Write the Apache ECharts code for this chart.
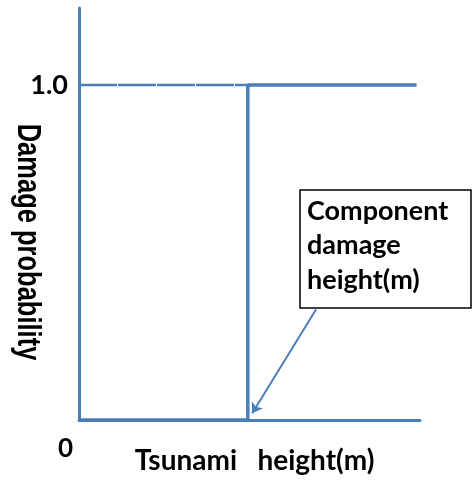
<!DOCTYPE html>
<html>
<head>
<meta charset="utf-8">
<script src="https://cdn.jsdelivr.net/npm/echarts@6/dist/echarts.min.js"></script>
<style>html,body{margin:0;padding:0;background:#fff}#c{width:473px;height:480px}</style>
</head>
<body>
<div id="c"></div>
<script>
// Step (fragility) curve: tsunami height vs damage probability
const tsunamiHeight = [0, 4.95, 4.95, 9.9];
const damageProb = [0, 0, 1, 1];
// 1.0 reference (dashed) level before the threshold
const refX = [0, 4.95];
const refY = [1, 1];
// annotation arrow (from box to threshold foot)
const arrowX = [6.95, 5.08];
const arrowY = [0.33, 0.02];
const yTickLabels = {0: '', 1: '1.0'};
const xTickLabels = {0: '0'};
const yAxisTitle = 'Damage probability';
const xAxisTitle = 'Tsunami   height(m)';
const boxLines = ['Component', 'damage', 'height(m)'];

const BLUE = '#4a7ebb';
const BOLD = 'Lato';

const chart = echarts.init(document.getElementById('c'), null, {renderer: 'canvas'});
chart.setOption({
  animation: false,
  backgroundColor: '#fff',
  grid: {left: 79, right: 53, top: 8, bottom: 60, containLabel: false, outerBoundsMode: 'none'},
  xAxis: {
    type: 'value', min: 0, max: 10, interval: 10,
    axisLine: {show: true, lineStyle: {color: BLUE, width: 3}},
    axisTick: {show: false}, splitLine: {show: false},
    axisLabel: {
      formatter: v => (xTickLabels[v] !== undefined ? xTickLabels[v] : ''),
      showMaxLabel: false,
      color: '#000', fontFamily: BOLD, fontWeight: 'bold', fontSize: 26,
      align: 'right', margin: 16, padding: [0, 6, 0, 0]
    },
    name: xAxisTitle, nameLocation: 'middle', nameGap: 27, nameMoveOverlap: false,
    nameTextStyle: {color: '#000', fontFamily: BOLD, fontWeight: 'bold', fontSize: 28,
                    padding: [0, 0, 0, 10]}
  },
  yAxis: {
    type: 'value', min: 0, max: 1.23, interval: 1,
    axisLine: {show: true, lineStyle: {color: BLUE, width: 3}},
    axisTick: {show: false}, splitLine: {show: false},
    axisLabel: {
      formatter: v => (yTickLabels[v] !== undefined ? yTickLabels[v] : ''),
      showMaxLabel: false,
      color: '#000', fontFamily: BOLD, fontWeight: 'bold', fontSize: 27, margin: 11
    }
  },
  series: [
    {
      type: 'line', symbol: 'none',
      data: tsunamiHeight.map((x, i) => [x, damageProb[i]]),
      lineStyle: {color: BLUE, width: 3.5}, z: 3
    },
    {
      type: 'line', symbol: 'none',
      data: refX.map((x, i) => [x, refY[i]]),
      lineStyle: {color: BLUE, width: 2.5, type: [38, 1]}, z: 2
    },
    {
      type: 'lines', coordinateSystem: 'cartesian2d',
      data: [{coords: arrowX.map((x, i) => [x, arrowY[i]])}],
      symbol: ['none', 'arrow'], symbolSize: 10,
      lineStyle: {color: BLUE, width: 2, opacity: 1, curveness: 0}, z: 4
    }
  ],
  graphic: [
    {
      type: 'text', x: 27, y: 242, rotation: -Math.PI / 2, scaleY: 1.3,
      style: {text: yAxisTitle, font: 'bold 25.5px "Liberation Sans"', fill: '#000',
              align: 'center', verticalAlign: 'middle'}
    },
    {
      type: 'rect', shape: {x: 300, y: 190, width: 171, height: 118},
      style: {fill: '#fff', stroke: '#000', lineWidth: 1.5}, z: 10
    },
    {
      type: 'text', x: 307, y: 194, z: 11,
      style: {text: boxLines.join('\n'), font: 'bold 27px Lato', fill: '#000',
              lineHeight: 34.5, align: 'left', verticalAlign: 'top'}
    }
  ]
});
</script>
</body>
</html>
